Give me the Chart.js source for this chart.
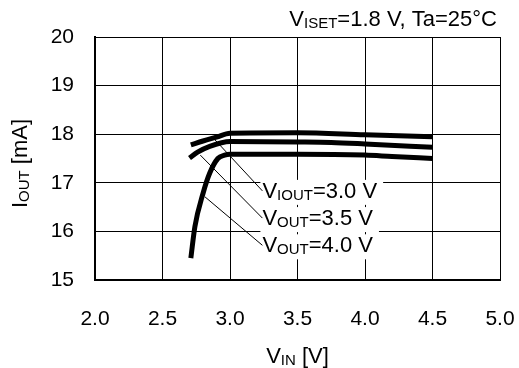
<!DOCTYPE html>
<html lang="en">
  <head>
    <meta charset="utf-8" />
    <title>IOUT vs VIN</title>
    <style>
      * {
        margin: 0;
        padding: 0;
      }
      body {
        background: #fff;
      }
      .chartBox {
        width: 519px;
        height: 368px;
      }
    </style>
  </head>
  <body>
    <div class="chartBox">
      <canvas id="myChart" width="519" height="368"></canvas>
    </div>

    <script src="https://cdn.jsdelivr.net/npm/chart.js@4.4.1/dist/chart.umd.min.js"></script>

    <script>
      // data block
      const vin30 = [2.71, 2.8, 2.9, 3.0, 3.5, 4.0, 4.5];
      const iout30 = [17.78, 17.86, 17.94, 18.02, 18.03, 17.99, 17.95];

      const vin35 = [2.7, 2.76, 2.85, 3.0, 3.5, 3.75, 4.0, 4.5];
      const iout35 = [17.51, 17.63, 17.75, 17.85, 17.84, 17.83, 17.8, 17.73];

      const vin40 = [2.71, 2.74, 2.8, 2.85, 2.91, 2.96, 3.0, 3.5, 4.0, 4.2, 4.5];
      const iout40 = [15.45, 16.1, 16.78, 17.2, 17.5, 17.57, 17.59, 17.59, 17.57, 17.54, 17.5];

      const xTicks = [2.0, 2.5, 3.0, 3.5, 4.0, 4.5, 5.0];
      const yTicks = [15, 16, 17, 18, 19, 20];

      // labels: text parts, label anchor (x, y) and curve point for the leader line
      const labelParts = [
        [["V", false], ["IOUT", true], ["=3.0 V", false]],
        [["V", false], ["OUT", true], ["=3.5 V", false]],
        [["V", false], ["OUT", true], ["=4.0 V", false]],
      ];
      const labelAt = [
        [3.24, 16.69],
        [3.24, 16.13],
        [3.24, 15.57],
      ];
      const leaderFrom = [
        [2.89, 17.88],
        [2.78, 17.57],
        [2.815, 16.71],
      ];

      const FONT = "Liberation Sans, Arial, sans-serif";

      function toPoints(xs, ys) {
        return xs.map((x, i) => ({ x: x, y: ys[i] }));
      }

      // draws text with subscript parts, returns width
      function drawParts(ctx, parts, x, y, size, measureOnly) {
        let cx = x;
        parts.forEach(([t, sub]) => {
          const s = sub ? Math.round(size * 0.68) : size;
          ctx.font = s + "px " + FONT;
          if (!measureOnly) ctx.fillText(t, cx, sub ? y + 2 : y);
          cx += ctx.measureText(t).width;
        });
        return cx - x;
      }

      const textPlugin = {
        id: "texts",
        afterDatasetsDraw(chart) {
          const ctx = chart.ctx;
          const xs = chart.scales.x;
          const ys = chart.scales.y;
          ctx.save();
          ctx.fillStyle = "#000";
          ctx.textBaseline = "alphabetic";
          ctx.textAlign = "left";

          // curve labels
          labelParts.forEach((parts, i) => {
            const lx = xs.getPixelForValue(labelAt[i][0]);
            const ly = ys.getPixelForValue(labelAt[i][1]);
            const w = drawParts(ctx, parts, lx, ly, 22, true);
            ctx.fillStyle = "#fff";
            ctx.fillRect(lx - 2, ly - 18, w + 8, 25);
            ctx.fillStyle = "#000";
            drawParts(ctx, parts, lx, ly, 22, false);

            ctx.beginPath();
            ctx.lineWidth = 1;
            ctx.strokeStyle = "#000";
            ctx.moveTo(xs.getPixelForValue(leaderFrom[i][0]), ys.getPixelForValue(leaderFrom[i][1]));
            ctx.lineTo(lx, ly - 7);
            ctx.stroke();
          });

          // title, right aligned
          const title = [["V", false], ["ISET", true], ["=1.8 V, Ta=25°C", false]];
          const tw = drawParts(ctx, title, 0, 0, 22, true);
          drawParts(ctx, title, xs.right - 3 - tw, 26, 22, false);

          // x axis title
          const xt = [["V", false], ["IN", true], [" [V]", false]];
          const xw = drawParts(ctx, xt, 0, 0, 22, true);
          drawParts(ctx, xt, (xs.left + xs.right) / 2 - xw / 2, 363, 22, false);

          // y axis title, rotated
          const yt = [["I", false], ["OUT", true], [" [mA]", false]];
          const yw = drawParts(ctx, yt, 0, 0, 22, true);
          ctx.translate(27, (ys.top + ys.bottom) / 2 + 5);
          ctx.rotate(-Math.PI / 2);
          drawParts(ctx, yt, -yw / 2, 0, 22, false);
          ctx.restore();
        },
      };

      const lineStyle = {
        borderColor: "#000",
        borderWidth: 5,
        pointRadius: 0,
        fill: false,
        cubicInterpolationMode: "monotone",
      };

      const data = {
        datasets: [
          Object.assign({ label: "3.0 V", data: toPoints(vin30, iout30) }, lineStyle),
          Object.assign({ label: "3.5 V", data: toPoints(vin35, iout35) }, lineStyle),
          Object.assign({ label: "4.0 V", data: toPoints(vin40, iout40) }, lineStyle),
        ],
      };

      // config block
      const config = {
        type: "line",
        data: data,
        options: {
          responsive: false,
          animation: false,
          layout: { padding: { top: 37, right: 19, left: 0, bottom: 0 } },
          plugins: {
            legend: { display: false },
            tooltip: { enabled: false },
          },
          scales: {
            x: {
              type: "linear",
              min: 2,
              max: 5,
              afterFit(scale) {
                scale.height = 88;
                scale.paddingLeft = 0;
                scale.paddingRight = 0;
              },
              afterBuildTicks(scale) {
                scale.ticks = xTicks.map((v) => ({ value: v }));
              },
              ticks: {
                color: "#000",
                font: { family: FONT, size: 21 },
                padding: 27,
                maxRotation: 0,
                callback: (v) => v.toFixed(1),
              },
              grid: { color: "#000", lineWidth: 1, drawTicks: false },
              border: { color: "#000", width: 2 },
            },
            y: {
              min: 15,
              max: 20,
              afterFit(scale) {
                scale.width = 95;
                scale.paddingTop = 0;
                scale.paddingBottom = 0;
              },
              afterBuildTicks(scale) {
                scale.ticks = yTicks.map((v) => ({ value: v }));
              },
              ticks: {
                color: "#000",
                font: { family: FONT, size: 21 },
                padding: 21,
              },
              grid: { color: "#000", lineWidth: 1, drawTicks: false },
              border: { color: "#000", width: 2 },
            },
          },
        },
        plugins: [textPlugin],
      };

      // init render block
      const ctx = document.getElementById("myChart");
      const myChart = new Chart(ctx, config);
    </script>
  </body>
</html>
